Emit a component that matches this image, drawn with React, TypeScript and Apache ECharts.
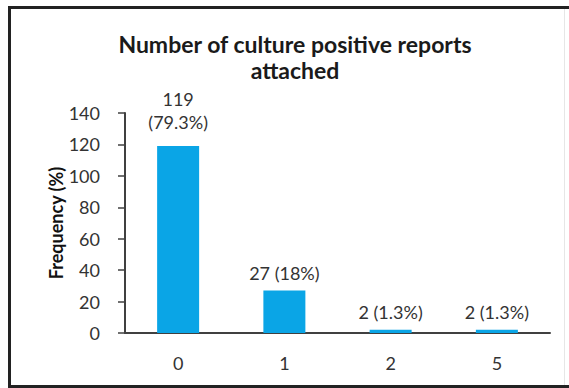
import React, { useEffect, useRef } from "react";
import * as echarts from "echarts";

const categories = ["0", "1", "2", "5"];
const counts = [119, 27, 2, 2];
const percents = ["79.3%", "18%", "1.3%", "1.3%"];
const yTicks = { min: 0, max: 140, interval: 20 };
const titleText = "Number of culture positive reports\nattached";
const yAxisName = "Frequency (%)";

const FONT = "Lato";
const TEXT = "#333333";
const AXIS = "#404040";
const BAR = "#0AA5E6";

export default function App() {
  const ref = useRef<HTMLDivElement>(null);
  useEffect(() => {
    if (!ref.current) return;
    const chart = echarts.init(ref.current, undefined, { renderer: "svg" });
    const data = counts.map((v, i) => ({
      value: v,
      label: { distance: i === 0 ? 13 : 6 },
    }));
    chart.setOption({
      animation: false,
      backgroundColor: "#ffffff",
      title: {
        text: titleText,
        left: 295,
        top: 31,
        padding: 0,
        textAlign: "center",
        textStyle: {
          fontFamily: FONT,
          fontWeight: "bold",
          fontSize: 23,
          lineHeight: 26,
          color: "#1a1a1a",
        },
      },
      grid: { left: 125, right: 19, top: 113, bottom: 55 },
      xAxis: {
        type: "category",
        data: categories,
        axisLine: { lineStyle: { color: AXIS, width: 2 } },
        axisTick: { show: false },
        axisLabel: {
          fontFamily: FONT,
          fontSize: 18,
          color: TEXT,
          margin: 21,
        },
      },
      yAxis: {
        type: "value",
        min: yTicks.min,
        max: yTicks.max,
        interval: yTicks.interval,
        name: yAxisName,
        nameLocation: "middle",
        nameGap: 60,
        nameMoveOverlap: false,
        nameTextStyle: {
          fontFamily: FONT,
          fontWeight: "bold",
          fontSize: 18,
          color: "#111",
        },
        axisLine: { show: true, lineStyle: { color: AXIS, width: 2 } },
        axisTick: { show: true, length: 7, lineStyle: { color: AXIS, width: 1.5 } },
        splitLine: { show: false },
        axisLabel: {
          fontFamily: FONT,
          fontSize: 18,
          color: TEXT,
          margin: 25,
        },
      },
      series: [
        {
          type: "bar",
          data,
          barWidth: 42,
          itemStyle: { color: BAR },
          label: {
            show: true,
            position: "top",
            fontFamily: FONT,
            fontSize: 18,
            lineHeight: 23,
            color: TEXT,
            formatter: (p: any) =>
              p.dataIndex === 0
                ? `${counts[p.dataIndex]}\n(${percents[p.dataIndex]})`
                : `${counts[p.dataIndex]} (${percents[p.dataIndex]})`,
          },
        },
      ],
      graphic: [
        {
          type: "rect",
          silent: true,
          shape: { x: 9.5, y: 7.5, width: 580, height: 379 },
          style: { fill: "none", stroke: "#222", lineWidth: 3 },
        },
        {
          type: "line",
          silent: true,
          shape: { x1: 564.5, y1: 9, x2: 564.5, y2: 385 },
          style: { stroke: "#e6e6e6", lineWidth: 1 },
        },
      ],
    });
    return () => chart.dispose();
  }, []);
  return (
    <div
      ref={ref}
      style={{ position: "absolute", left: 0, top: 0, width: 569, height: 388 }}
    />
  );
}
